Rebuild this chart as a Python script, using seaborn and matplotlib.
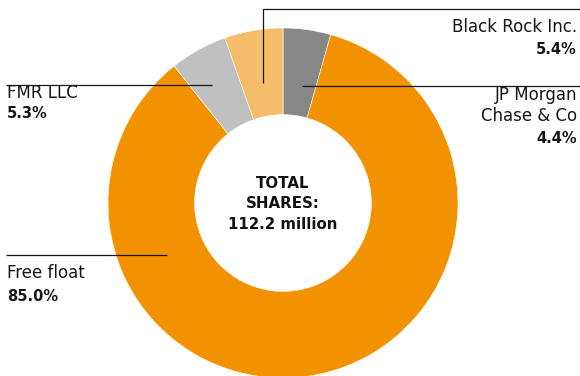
import matplotlib
matplotlib.use("Agg")
import matplotlib.pyplot as plt
import seaborn as sns

# ---- data ----
holders = ["JP Morgan\nChase & Co", "Free float", "FMR LLC", "Black Rock Inc."]
shares_pct = [4.4, 85.0, 5.3, 5.4]
pct_labels = ["4.4%", "85.0%", "5.3%", "5.4%"]
center_title = "TOTAL\nSHARES:\n112.2 million"

colors = ["#878787", "#F39200", "#C0C0C0", "#F5BD69"]

sns.set_theme(style="white")
plt.rcParams['font.family'] = ['DejaVu Sans']

W, H = 580, 376
fig = plt.figure(figsize=(W / 100, H / 100), dpi=100)
ax = fig.add_axes([0, 0, 1, 1])

def Y(y):  # pixel-from-top -> data
    return H - y

cx, cy, R = 283, 203, 175
ax.pie(shares_pct, colors=colors, startangle=90, counterclock=False,
       center=(cx, Y(cy)), radius=R,
       wedgeprops=dict(width=R * 0.495, edgecolor="white", linewidth=0.4))
ax.set_xlim(0, W)
ax.set_ylim(0, H)
ax.set_aspect("equal")
ax.axis("off")

txt = "#161616"
line_kw = dict(color=txt, lw=0.9, solid_capstyle="butt")
fs = 12
fb = 10.5
reg = dict(fontsize=fs, color=txt, va="baseline")
bold = dict(fontsize=fb, color=txt, va="baseline", fontweight="bold")

# Black Rock
ax.plot([262.5, 262.5, W], [Y(83), Y(9), Y(9)], **line_kw)
ax.text(577, Y(31.5), holders[3], ha="right", **reg)
ax.text(577, Y(53.5), pct_labels[3], ha="right", **bold)
# JP Morgan
jp1, jp2 = holders[0].split("\n")
ax.plot([302, W], [Y(86), Y(86)], **line_kw)
ax.text(577, Y(99.5), jp1, ha="right", **reg)
ax.text(577, Y(121), jp2, ha="right", **reg)
ax.text(577, Y(143), pct_labels[0], ha="right", **bold)
# FMR
ax.plot([6, 212], [Y(85), Y(85)], **line_kw)
ax.text(7, Y(98), holders[2], ha="left", **reg)
ax.text(7, Y(118), pct_labels[2], ha="left", **bold)
# Free float
ax.plot([6, 167], [Y(255), Y(255)], **line_kw)
ax.text(7, Y(278.5), holders[1], ha="left", **reg)
ax.text(7, Y(301), pct_labels[1], ha="left", **bold)

# center
for yb, line in zip([188, 207.5, 229], center_title.split("\n")):
    ax.text(cx, Y(yb), line, ha="center", va="baseline", fontsize=10.8,
            fontweight="bold", color="#111111")

fig.savefig("out.png", dpi=100)
